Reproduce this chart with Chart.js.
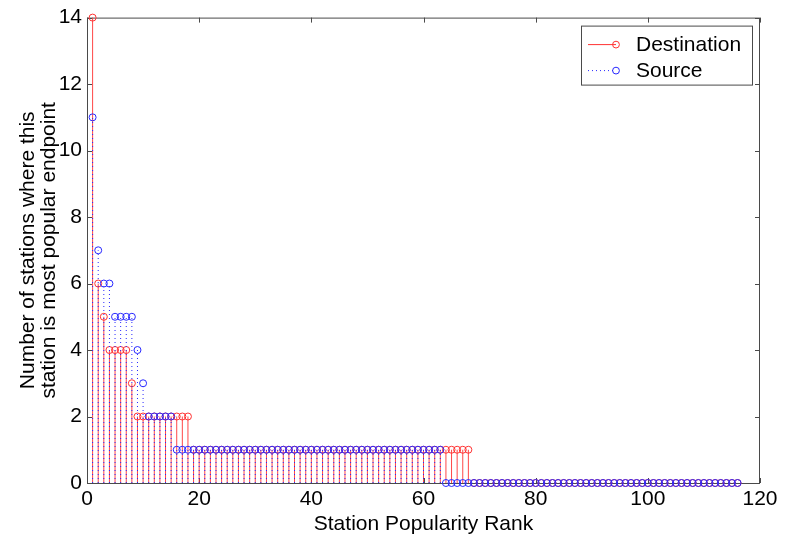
<!doctype html>
<html>

<head>
	<title>Station Popularity Rank</title>
	<script src="https://cdn.jsdelivr.net/npm/chart.js@4.4.0/dist/chart.umd.min.js"></script>
	<style>
		html, body { margin: 0; padding: 0; background: #fff; }
		#canvas-holder { width: 785px; height: 540px; }
	</style>
</head>

<body>
	<div id="canvas-holder">
		<canvas id="chart-area"></canvas>
	</div>
	<script>
		// stations per popularity rank (rank 1..116)
		const destination = [
			14, 6, 5, 4, 4, 4, 4, 3, 2, 2,
			2, 2, 2, 2, 2, 2, 2, 2, 1, 1,
			1, 1, 1, 1, 1, 1, 1, 1, 1, 1,
			1, 1, 1, 1, 1, 1, 1, 1, 1, 1,
			1, 1, 1, 1, 1, 1, 1, 1, 1, 1,
			1, 1, 1, 1, 1, 1, 1, 1, 1, 1,
			1, 1, 1, 1, 1, 1, 1, 1, 0, 0,
			0, 0, 0, 0, 0, 0, 0, 0, 0, 0,
			0, 0, 0, 0, 0, 0, 0, 0, 0, 0,
			0, 0, 0, 0, 0, 0, 0, 0, 0, 0,
			0, 0, 0, 0, 0, 0, 0, 0, 0, 0,
			0, 0, 0, 0, 0, 0
		];
		const source = [
			11, 7, 6, 6, 5, 5, 5, 5, 4, 3,
			2, 2, 2, 2, 2, 1, 1, 1, 1, 1,
			1, 1, 1, 1, 1, 1, 1, 1, 1, 1,
			1, 1, 1, 1, 1, 1, 1, 1, 1, 1,
			1, 1, 1, 1, 1, 1, 1, 1, 1, 1,
			1, 1, 1, 1, 1, 1, 1, 1, 1, 1,
			1, 1, 1, 0, 0, 0, 0, 0, 0, 0,
			0, 0, 0, 0, 0, 0, 0, 0, 0, 0,
			0, 0, 0, 0, 0, 0, 0, 0, 0, 0,
			0, 0, 0, 0, 0, 0, 0, 0, 0, 0,
			0, 0, 0, 0, 0, 0, 0, 0, 0, 0,
			0, 0, 0, 0, 0, 0
		];
		const xTicks = [0, 20, 40, 60, 80, 100, 120];
		const yTicks = [0, 2, 4, 6, 8, 10, 12, 14];
		const seriesNames = ['Destination', 'Source'];

		const FONT = '"Liberation Sans", Arial, Helvetica, sans-serif';
		const RED = 'rgb(255, 50, 50)';
		const BLUE = 'rgb(40, 40, 255)';

		const toPoints = (values) => values.map((v, i) => ({ x: i + 1, y: v }));

		// stem lines drawn under each dataset's markers
		const stemPlugin = {
			id: 'stems',
			beforeDatasetDraw(chart, args) {
				const ds = chart.data.datasets[args.index];
				const ctx = chart.ctx;
				const base = chart.scales.y.getPixelForValue(0);
				ctx.save();
				ctx.strokeStyle = ds.stemColor;
				ctx.lineWidth = ds.stemWidth;
				ctx.setLineDash(ds.stemDash);
				ctx.beginPath();
				args.meta.data.forEach((pt) => {
					if (Math.abs(pt.y - base) < 0.5) return;
					ctx.moveTo(pt.x, base);
					ctx.lineTo(pt.x, pt.y);
				});
				ctx.stroke();
				ctx.restore();
			}
		};

		// matlab style box with inward ticks on all sides
		const boxPlugin = {
			id: 'box',
			beforeDatasetsDraw(chart) {
				const { ctx, chartArea: a, scales } = chart;
				const len = 5;
				ctx.save();
				ctx.strokeStyle = '#4a4a4a';
				ctx.lineWidth = 1;
				ctx.strokeRect(a.left + 0.5, a.top + 0.5, a.right - a.left - 1, a.bottom - a.top);
				ctx.beginPath();
				xTicks.forEach((t) => {
					const x = Math.round(scales.x.getPixelForValue(t)) + 0.5;
					ctx.moveTo(x, a.bottom); ctx.lineTo(x, a.bottom - len);
					ctx.moveTo(x, a.top); ctx.lineTo(x, a.top + len);
				});
				yTicks.forEach((t) => {
					const y = Math.round(scales.y.getPixelForValue(t)) + 0.5;
					ctx.moveTo(a.left, y); ctx.lineTo(a.left + len, y);
					ctx.moveTo(a.right, y); ctx.lineTo(a.right - len, y);
				});
				ctx.stroke();
				ctx.restore();
			}
		};

		const legendPlugin = {
			id: 'stemLegend',
			afterDraw(chart) {
				const ctx = chart.ctx;
				const a = chart.chartArea;
				const right = a.right - 8;
				const left = right - 171;
				const top = a.top + 8;
				const height = 59;
				ctx.save();
				ctx.fillStyle = '#fff';
				ctx.fillRect(left, top, right - left, height);
				ctx.strokeStyle = '#4a4a4a';
				ctx.lineWidth = 1;
				ctx.strokeRect(left + 0.5, top + 0.5, right - left, height);
				const rows = [
					{ label: seriesNames[0], color: RED, dash: [], y: top + 19 },
					{ label: seriesNames[1], color: BLUE, dash: [1, 3], y: top + 45 }
				];
				rows.forEach((r) => {
					ctx.strokeStyle = r.color;
					ctx.lineWidth = 1;
					ctx.setLineDash(r.dash);
					ctx.beginPath();
					ctx.moveTo(left + 7, r.y);
					ctx.lineTo(left + 35, r.y);
					ctx.stroke();
					ctx.setLineDash([]);
					ctx.beginPath();
					ctx.arc(left + 35, r.y, 3.4, 0, Math.PI * 2);
					ctx.stroke();
					ctx.fillStyle = '#000';
					ctx.font = '21px ' + FONT;
					ctx.textBaseline = 'middle';
					ctx.fillText(r.label, left + 55, r.y + 1);
				});
				ctx.restore();
			}
		};

		const config = {
			type: 'scatter',
			data: {
				datasets: [{
					label: seriesNames[0],
					data: toPoints(destination),
					order: 2,
					clip: false,
					pointStyle: 'circle',
					pointRadius: 3.5,
					pointBorderWidth: 1,
					pointBorderColor: RED,
					pointBackgroundColor: 'rgba(0,0,0,0)',
					showLine: false,
					stemColor: RED,
					stemWidth: 0.9,
					stemDash: []
				}, {
					label: seriesNames[1],
					data: toPoints(source),
					order: 1,
					clip: false,
					pointStyle: 'circle',
					pointRadius: 3.5,
					pointBorderWidth: 1,
					pointBorderColor: BLUE,
					pointBackgroundColor: 'rgba(0,0,0,0)',
					showLine: false,
					stemColor: BLUE,
					stemWidth: 1,
					stemDash: [1, 3]
				}]
			},
			options: {
				responsive: true,
				maintainAspectRatio: false,
				animation: false,
				layout: { padding: { top: 14, right: 25, left: 0, bottom: 0 } },
				plugins: {
					legend: { display: false },
					tooltip: { enabled: false }
				},
				scales: {
					x: {
						type: 'linear',
						min: 0,
						max: 120,
						afterFit(scale) { scale.height = 57; },
						afterBuildTicks(scale) { scale.ticks = xTicks.map((v) => ({ value: v })); },
						grid: { display: false, drawTicks: false },
						border: { display: false },
						ticks: {
							padding: 4,
							color: '#000',
							maxRotation: 0,
							font: { family: FONT, size: 21 }
						},
						title: {
							display: true,
							text: 'Station Popularity Rank',
							color: '#000',
							font: { family: FONT, size: 21, lineHeight: 1.2 },
							padding: { top: 0, bottom: 3 }
						}
					},
					y: {
						type: 'linear',
						min: 0,
						max: 14,
						afterFit(scale) { scale.width = 87; },
						afterBuildTicks(scale) { scale.ticks = yTicks.map((v) => ({ value: v })); },
						grid: { display: false, drawTicks: false },
						border: { display: false },
						ticks: {
							padding: 5,
							color: '#000',
							font: { family: FONT, size: 21 }
						},
						title: {
							display: true,
							text: ['Number of stations where this', 'station is most popular endpoint'],
							color: '#000',
							font: { family: FONT, size: 21, lineHeight: 1.0 },
							padding: { top: 18, bottom: 0 }
						}
					}
				}
			},
			plugins: [boxPlugin, stemPlugin, legendPlugin]
		};

		window.onload = function() {
			const ctx = document.getElementById('chart-area').getContext('2d');
			window.myChart = new Chart(ctx, config);
		};
	</script>
</body>

</html>
